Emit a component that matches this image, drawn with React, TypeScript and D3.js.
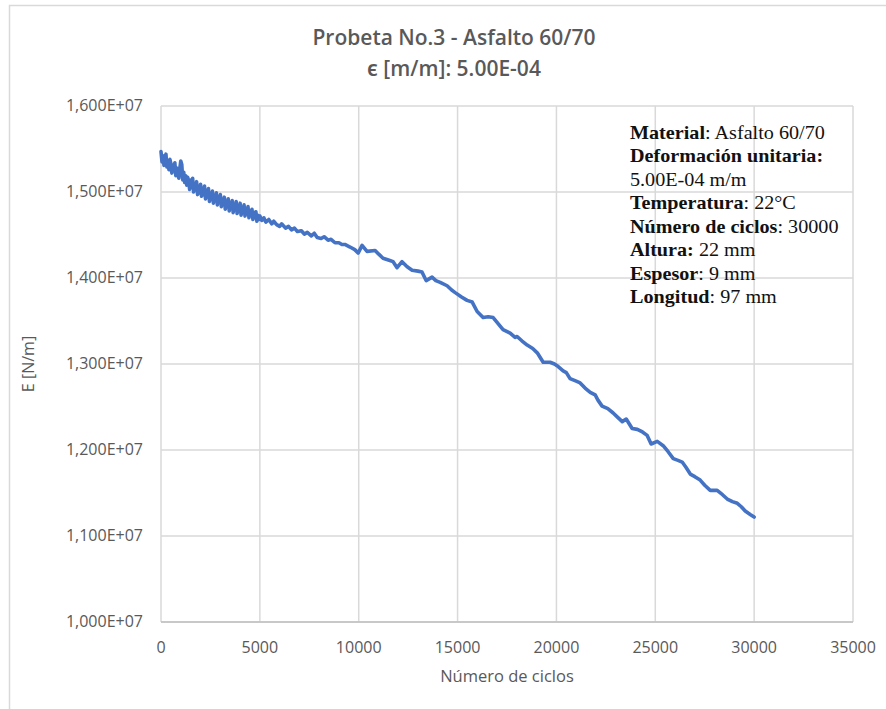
import React from "react";
import * as d3 from "d3";

const titleLines = ["Probeta No.3 - Asfalto 60/70", "ϵ [m/m]: 5.00E-04"];
const xAxisTitle = "Número de ciclos";
const yAxisTitle = "E [N/m]";

const xTicks = [0, 5000, 10000, 15000, 20000, 25000, 30000, 35000];
const yTicks = [1.0, 1.1, 1.2, 1.3, 1.4, 1.5, 1.6]; // x 1E+07

// Number of cycles
const cycles = [
  0, 50, 100, 150, 200, 250, 300, 350, 400, 450, 500, 550, 600, 650, 700, 750, 800, 850, 900, 950,
  1000, 1050, 1100, 1150, 1200, 1250, 1300, 1350, 1400, 1450, 1500, 1550, 1600, 1650, 1700, 1750, 1800, 1850, 1900, 1950,
  2000, 2050, 2100, 2150, 2200, 2250, 2300, 2350, 2400, 2450, 2500, 2550, 2600, 2650, 2700, 2750, 2800, 2850, 2900, 2950,
  3000, 3050, 3100, 3150, 3200, 3250, 3300, 3350, 3400, 3450, 3500, 3550, 3600, 3650, 3700, 3750, 3800, 3850, 3900, 3950,
  4000, 4050, 4100, 4150, 4200, 4250, 4300, 4350, 4400, 4450, 4500, 4550, 4600, 4650, 4700, 4750, 4800, 4850, 4900, 4950,
  5000, 5100, 5200, 5300, 5450, 5600, 5700, 5850, 6000, 6100, 6300, 6450, 6600, 6750, 6900, 7100, 7250, 7400, 7600,
  7750, 7900, 8100, 8250, 8450, 8600, 8800, 9000, 9150, 9300,
  9560, 9800, 9970, 10170, 10420, 10830, 11000, 11230, 11500, 11740, 11940, 12190, 12450,
  12700, 13000, 13200, 13410, 13710, 13900, 14120, 14470, 14700, 14880, 15200, 15480, 15740, 15990, 16290,
  16550, 16800, 17050, 17300, 17660, 17910, 18010, 18250, 18520, 18800, 19030, 19330, 19680, 19900, 20090,
  20340, 20500, 20690, 21000, 21200, 21450, 21710, 21960, 22100, 22310, 22600, 22870, 23100, 23330, 23530,
  23830, 24090, 24350, 24590, 24790, 25100, 25400, 25650, 25910, 26150, 26360, 26550, 26770, 27000, 27270,
  27500, 27780, 28130, 28400, 28640, 28900, 29150, 29350, 29550, 29800, 30000,
];

// E [N/m], in units of 1E+07
const modulus = [
  1.547, 1.535, 1.542, 1.531, 1.539, 1.544, 1.529, 1.536, 1.526, 1.538, 1.533, 1.522, 1.531, 1.525, 1.534, 1.519, 1.528, 1.522, 1.516, 1.527,
  1.536, 1.532, 1.514, 1.523, 1.511, 1.519, 1.508, 1.517, 1.512, 1.503, 1.514, 1.506, 1.516, 1.500, 1.509, 1.503, 1.512, 1.497, 1.505, 1.499,
  1.509, 1.495, 1.503, 1.497, 1.507, 1.492, 1.500, 1.496, 1.504, 1.489, 1.498, 1.493, 1.501, 1.487, 1.496, 1.490, 1.499, 1.485, 1.494, 1.488,
  1.497, 1.483, 1.491, 1.486, 1.494, 1.480, 1.489, 1.484, 1.492, 1.478, 1.487, 1.482, 1.490, 1.476, 1.485, 1.480, 1.489, 1.475, 1.483, 1.478,
  1.487, 1.473, 1.481, 1.477, 1.485, 1.472, 1.480, 1.475, 1.483, 1.470, 1.478, 1.473, 1.480, 1.468, 1.476, 1.471, 1.477, 1.466, 1.473, 1.468,
  1.472, 1.467, 1.470, 1.465, 1.468, 1.463, 1.466, 1.462, 1.460, 1.463, 1.458, 1.460, 1.456, 1.458, 1.454, 1.455, 1.451, 1.453, 1.449,
  1.452, 1.447, 1.446, 1.448, 1.444, 1.445, 1.441, 1.441, 1.439, 1.439,
  1.436, 1.433, 1.429, 1.438, 1.431, 1.432, 1.428, 1.423, 1.421, 1.419, 1.412, 1.419, 1.413,
  1.409, 1.408, 1.407, 1.397, 1.401, 1.397, 1.395, 1.391, 1.386, 1.383, 1.378, 1.374, 1.372, 1.361, 1.354,
  1.355, 1.354, 1.347, 1.340, 1.336, 1.331, 1.332, 1.327, 1.322, 1.318, 1.313, 1.302, 1.302, 1.300, 1.297,
  1.292, 1.290, 1.283, 1.280, 1.278, 1.272, 1.267, 1.264, 1.258, 1.251, 1.248, 1.243, 1.238, 1.233, 1.236,
  1.225, 1.224, 1.221, 1.217, 1.207, 1.210, 1.205, 1.198, 1.190, 1.188, 1.186, 1.180, 1.172, 1.169, 1.165,
  1.159, 1.153, 1.153, 1.148, 1.143, 1.140, 1.138, 1.134, 1.129, 1.125, 1.122,
];

const infoLines: { bold: string; normal: string }[] = [
  { bold: "Material", normal: ": Asfalto 60/70" },
  { bold: "Deformación unitaria:", normal: "" },
  { bold: "", normal: "5.00E-04 m/m" },
  { bold: "Temperatura", normal: ": 22°C" },
  { bold: "Número de ciclos", normal: ": 30000" },
  { bold: "Altura:", normal: " 22 mm" },
  { bold: "Espesor", normal: ": 9 mm" },
  { bold: "Longitud", normal: ": 97 mm" },
];

const W = 886;
const H = 709;
const M = { left: 161, right: 853, top: 106, bottom: 622 };
const sans = "'Open Sans', 'Noto Sans', sans-serif";
const serif = "'Liberation Serif', 'DejaVu Serif', serif";
const gridColor = "#d9d9d9";
const textColor = "#595959";

export default function App() {
  const x = d3.scaleLinear().domain([0, 35000]).range([M.left, M.right]);
  const y = d3.scaleLinear().domain([1.0, 1.6]).range([M.bottom, M.top]);
  const data = cycles.map((c, i) => [c, modulus[i]] as [number, number]);
  const line = d3
    .line<[number, number]>()
    .x((d) => x(d[0]))
    .y((d) => y(d[1]));
  const fmtY = (v: number) => v.toFixed(3).replace(".", ",") + "E+07";

  return (
    <svg
      width={W}
      height={H}
      style={{ position: "absolute", left: 0, top: 0, background: "#fff" }}
    >
      <rect x={0} y={0} width={W} height={H} fill="#fff" />
      <path d={`M9.5,${H} V5.5 H${W}`} fill="none" stroke={gridColor} strokeWidth={1.5} />

      {/* title */}
      <text x={454} y={45} textAnchor="middle" fontFamily={sans} fontSize={21} fontWeight={600} fill={textColor}>
        {titleLines[0]}
      </text>
      <text x={454} y={76} textAnchor="middle" fontFamily={sans} fontSize={21} fontWeight={600} fill={textColor}>
        {titleLines[1]}
      </text>

      {/* gridlines */}
      {yTicks.map((t) => (
        <line key={"gy" + t} x1={M.left} x2={M.right} y1={y(t)} y2={y(t)} stroke={gridColor} strokeWidth={1.5} />
      ))}
      {xTicks.map((t) => (
        <line key={"gx" + t} x1={x(t)} x2={x(t)} y1={M.top} y2={M.bottom} stroke={gridColor} strokeWidth={1.5} />
      ))}
      <line x1={M.left} x2={M.right} y1={M.bottom} y2={M.bottom} stroke="#bfbfbf" strokeWidth={1.5} />

      {/* tick labels */}
      {yTicks.map((t) => (
        <text key={"ly" + t} x={143} y={y(t) + 5} textAnchor="end" fontFamily={sans} fontSize={16} fill={textColor}>
          {fmtY(t)}
        </text>
      ))}
      {xTicks.map((t) => (
        <text key={"lx" + t} x={x(t)} y={653} textAnchor="middle" fontFamily={sans} fontSize={16} fill={textColor}>
          {String(t)}
        </text>
      ))}

      {/* axis titles */}
      <text x={x(17500)} y={682} textAnchor="middle" fontFamily={sans} fontSize={16.5} fill={textColor}>
        {xAxisTitle}
      </text>
      <text
        transform={`translate(34,${(M.top + M.bottom) / 2}) rotate(-90)`}
        textAnchor="middle"
        fontFamily={sans}
        fontSize={16}
        fill={textColor}
      >
        {yAxisTitle}
      </text>

      {/* series */}
      <path d={line(data) || ""} fill="none" stroke="#4472c4" strokeWidth={3.6} strokeLinejoin="round" strokeLinecap="round" />

      {/* info box */}
      <g transform="translate(630,0) scale(1.12,1)">
        {infoLines.map((l, i) => (
          <text key={"info" + i} x={0} y={139 + i * 23.5} fontFamily={serif} fontSize={18} fill="#111">
            {l.bold && <tspan fontWeight="bold">{l.bold}</tspan>}
            {l.normal && <tspan>{l.normal}</tspan>}
          </text>
        ))}
      </g>
    </svg>
  );
}
